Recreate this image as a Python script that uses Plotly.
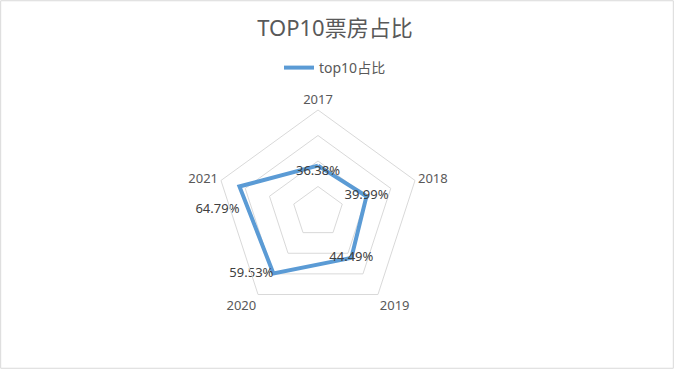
import plotly.graph_objects as go

categories = ["2017", "2018", "2019", "2020", "2021"]
values = [0.3638, 0.3999, 0.4449, 0.5953, 0.6479]
labels = ["36.38%", "39.99%", "44.49%", "59.53%", "<br>64.79%"]
label_pos = ["bottom center", "middle center", "middle center", "middle left", "bottom left"]

W, H = 674, 369
cx, cy, R = 318, 212, 102

fig = go.Figure()
fig.add_trace(go.Scatterpolar(
    r=values + [values[0]],
    theta=categories + [categories[0]],
    mode="lines",
    line=dict(color="#5B9BD5", width=4),
    name="top10占比",
    showlegend=True,
))
fig.add_trace(go.Scatterpolar(
    r=values,
    theta=categories,
    mode="text",
    text=labels,
    textposition=label_pos,
    textfont=dict(size=13, color="#404040"),
    showlegend=False,
    hoverinfo="skip",
))

fig.update_layout(
    width=W, height=H,
    margin=dict(l=0, r=0, t=0, b=0),
    paper_bgcolor="white",
    plot_bgcolor="white",
    font=dict(family="Noto Sans, Noto Sans CJK SC, sans-serif", color="#595959"),
    title=dict(text="TOP10票房占比", x=0.497, xanchor="center", y=1 - 28 / H, yanchor="middle",
               font=dict(size=22, color="#595959")),
    legend=dict(orientation="h", x=0.497, xanchor="center", y=1 - 68 / H, yanchor="middle",
                font=dict(size=14, color="#595959")),
    polar=dict(
        domain=dict(x=[(cx - R) / W, (cx + R) / W], y=[(H - cy - R) / H, (H - cy + R) / H]),
        bgcolor="white",
        radialaxis=dict(range=[0, 0.8], dtick=0.2, showticklabels=False, ticks="",
                        showline=False, gridcolor="#d9d9d9", gridwidth=1),
        angularaxis=dict(rotation=90, direction="clockwise", showgrid=False, ticks="",
                         linecolor="#d9d9d9", linewidth=1,
                         tickfont=dict(size=13, color="#595959")),
        gridshape="linear",
    ),
    shapes=[dict(type="rect", xref="paper", yref="paper", x0=0.001, x1=0.999, y0=0.002, y1=0.998,
                 line=dict(color="#d9d9d9", width=1))],
)

fig.write_html("out.html", config={"displayModeBar": False},
               post_script="document.body.style.margin='0';document.body.style.overflow='hidden';")
